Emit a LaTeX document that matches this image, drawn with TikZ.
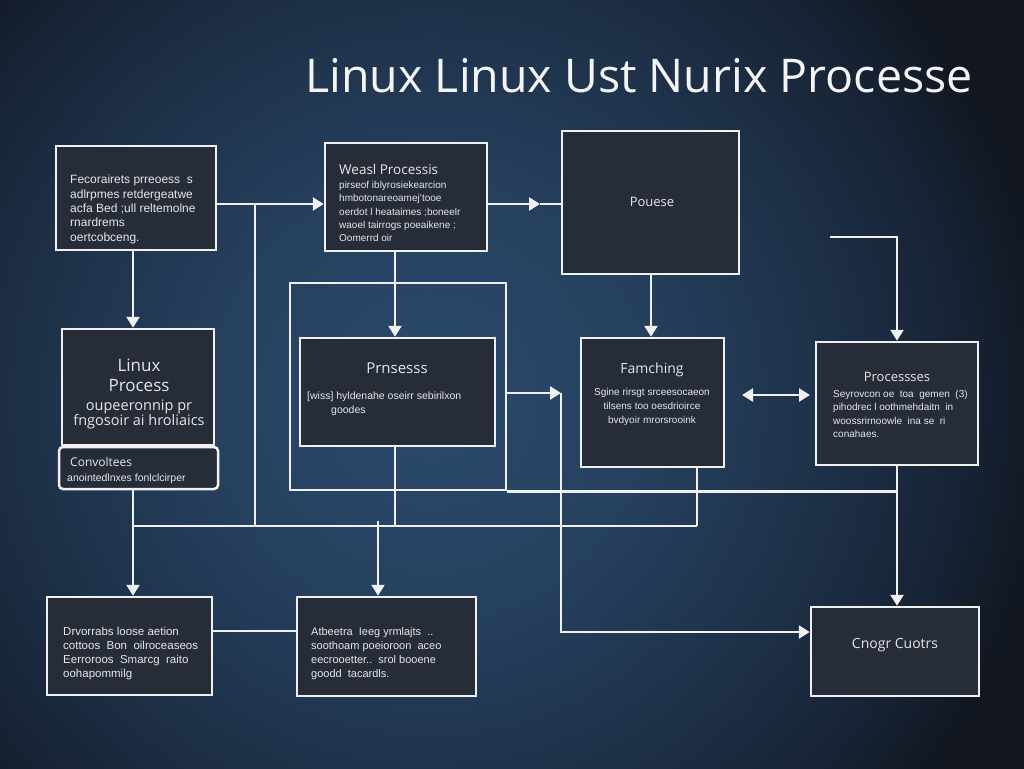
\documentclass[tikz,border=0pt]{standalone}
\usepackage{fontspec}
\setmainfont{Liberation Sans}
\newfontfamily\titlefont{Open Sans}
\usetikzlibrary{arrows.meta}
\definecolor{bgA}{HTML}{2B4A6D}
\definecolor{bgB}{HTML}{26415F}
\definecolor{bgC}{HTML}{1E3149}
\definecolor{bgD}{HTML}{172335}
\definecolor{bgE}{HTML}{11161F}
\definecolor{boxfill}{HTML}{262D39}
\definecolor{linec}{HTML}{F0F0F0}
\definecolor{txtc}{HTML}{E6E6E6}
\definecolor{titlec}{HTML}{F4F4F4}
\pgfdeclareradialshading{bgshade}{\pgfpoint{0bp}{0bp}}{color(0bp)=(bgA); color(7.5bp)=(bgB); color(14bp)=(bgC); color(19bp)=(bgD); color(22.5bp)=(bgE); color(50bp)=(bgE)}
\begin{document}
\begin{tikzpicture}[x=1pt,y=-1pt,
  box/.style={draw=linec, line width=2.5pt, fill=boxfill, inner sep=0pt},
  conn/.style={draw=linec, line width=2.5pt},
  arr/.style={conn, -{Triangle[width=13pt,length=11pt]}},
  dbl/.style={conn, {Triangle[width=13pt,length=11pt]}-{Triangle[width=13pt,length=11pt]}},
  ltxt/.style={text=txtc, inner sep=0pt, align=left, anchor=north west},
  ctxt/.style={text=txtc, inner sep=0pt, align=center},
]
\useasboundingbox (0,0) rectangle (1024,768);
\begin{scope}
\clip (0,0) rectangle (1024,768);
\fill[bgE] (0,0) rectangle (1024,768);
\shade[shading=bgshade] (-270,-300) rectangle (1130,1100);
\end{scope}

% boxes
\node[box, minimum width=160pt, minimum height=104pt] (A) at (136,198) {};
\node[box, minimum width=162pt, minimum height=108pt] (B) at (406,197) {};
\node[box, minimum width=177pt, minimum height=143pt] (C) at (650.5,202.5) {};
\node[box, minimum width=152pt, minimum height=116pt] (D) at (138,387) {};
\node[box, minimum width=159pt, minimum height=42pt, rounded corners=4pt] (Dsub) at (138.5,468) {};
\node[draw=linec, line width=2.5pt, inner sep=0pt, minimum width=216pt, minimum height=207pt] (Fr) at (398,386.5) {};
\node[box, minimum width=195pt, minimum height=108pt] (E) at (397.5,392) {};
\node[box, minimum width=143pt, minimum height=129pt] (F) at (652.5,402.5) {};
\node[box, minimum width=162pt, minimum height=123pt] (G) at (897,403.5) {};
\node[box, minimum width=165pt, minimum height=98pt] (H) at (129.5,646) {};
\node[box, minimum width=179pt, minimum height=99pt] (I) at (386.5,646.5) {};
\node[box, minimum width=168pt, minimum height=89pt] (J) at (895,651.5) {};

% helper coordinates
\coordinate (yAB) at (0,204);
\coordinate (cx133) at (133,0);
\coordinate (cx395) at (395,0);
\coordinate (cx651) at (651,0);
\coordinate (cx697) at (697,0);
\coordinate (v1t) at (255,204);
\coordinate (v1b) at (255,526);
\coordinate (tC) at (540,204);
\coordinate (fr1) at (830,237);
\coordinate (d1) at (742,395);
\coordinate (d2) at (810,395);
\coordinate (y393) at (0,393);
\coordinate (tJ) at (561,393);
\coordinate (cJ) at (561,632);
\coordinate (h526L) at (133,526);
\coordinate (h526R) at (697,526);
\coordinate (a378) at (378,521);
\coordinate (y631) at (0,631);

% connectors
\draw[arr] (A.east |- yAB) -- (B.west |- yAB);
\draw[conn] (v1t) -- (v1b);
\draw[arr] (cx133 |- A.south) -- (cx133 |- D.north);
\draw[arr] (B.east |- yAB) -- (tC);
\draw[conn] (tC) -- (C.west |- yAB);
\draw[arr] (cx395 |- B.south) -- (cx395 |- E.north);
\draw[arr] (cx651 |- C.south) -- (cx651 |- F.north);
\draw[arr] (fr1) -- (G.north |- fr1) -- (G.north);
\draw[dbl] (d1) -- (d2);
\draw[arr] (Fr.east |- y393) -- (tJ);
\draw[arr] (tJ) -- (cJ) -- (J.west |- cJ);
\draw[conn] (Fr.south east) -- (G.south |- Fr.south east);
\draw[arr] (G.south) -- (G.south |- J.north);
\draw[conn] (h526L) -- (h526R);
\draw[conn] (cx697 |- F.south) -- (h526R);
\draw[conn] (cx395 |- E.south) -- (cx395 |- h526L);
\draw[arr] (a378) -- (a378 |- I.north);
\draw[arr] (cx133 |- Dsub.south) -- (cx133 |- H.north);
\draw[conn] (H.east |- y631) -- (I.west |- y631);

% title
\node[text=titlec, inner sep=0pt, font=\titlefont\fontsize{46.5}{52}\selectfont] (title) at (639,76) {Linux Linux Ust Nurix Processe};

% texts
\node[ltxt, font=\fontsize{12}{14.3}\selectfont] (Atx) at (70,175) {Fecorairets prreoess\ \ s\\adlrpmes retdergeatwe\\acfa Bed ;ull reltemolne\\rnardrems\\oertcobceng.};
\node[ltxt, font=\titlefont\fontsize{13.5}{15}\selectfont] (Bt) at (339,164) {Weasl Processis};
\node[ltxt, font=\fontsize{10}{13.3}\selectfont] (Btx) at (339,181) {pirseof iblyrosiekearcion\\hmbotonareoamej'tooe\\oerdot l heataimes ;boneelr\\waoel tairrogs poeaikene ;\\Oomerrd oir};
\node[ctxt, font=\titlefont\fontsize{13}{15}\selectfont] (Ct) at (652,202) {Pouese};
\node[ctxt, font=\titlefont\fontsize{17}{20}\selectfont] (Dt) at (139,375) {Linux\\Process};
\node[ctxt, font=\titlefont\fontsize{14.5}{15}\selectfont] (Dtx) at (139,414.5) {oupeeronnip pr\\fngosoir ai hroliaics};
\node[ltxt, font=\titlefont\fontsize{12}{15}\selectfont] (Dst) at (70,457) {Convoltees};
\node[ltxt, font=\fontsize{10.5}{13}\selectfont] (Dstx) at (67,474) {anointedlnxes fonlclcirper};
\node[ctxt, font=\titlefont\fontsize{15}{17}\selectfont] (Et) at (397,368) {Prnsesss};
\node[ltxt, font=\fontsize{10.5}{13.5}\selectfont] (Etx) at (307,392) {[wiss] hyldenahe oseirr sebirilxon\\\hspace*{24pt}goodes};
\node[ctxt, font=\titlefont\fontsize{14}{16}\selectfont] (Ft) at (652,370) {Famching};
\node[ctxt, font=\fontsize{10}{14}\selectfont] (Ftx) at (652,407) {Sgine rirsgt srceesocaeon\\tilsens too oesdrioirce\\bvdyoir mrorsrooink};
\node[ctxt, font=\titlefont\fontsize{13}{15}\selectfont] (Gt) at (897,377) {Processses};
\node[ltxt, font=\fontsize{10}{13.3}\selectfont] (Gtx) at (833,390) {Seyrovcon oe\ \ toa\ \ gemen\ \ (3)\\pihodrec l oothmehdaitn\ \ in\\woossrirnoowle\ \ ina se\ \ ri\\conahaes.};
\node[ltxt, font=\fontsize{11.5}{14}\selectfont] (Htx) at (63,627) {Drvorrabs loose aetion\\cottoos\ \ Bon\ \ oilroceaseos\\Eerroroos\ \ Smarcg\ \ raito\\oohapommilg};
\node[ltxt, font=\fontsize{11}{14}\selectfont] (Itx) at (311,627) {Atbeetra\ \ Ieeg yrmlajts\ \ ..\\soothoam poeioroon\ \ aceo\\eecrooetter..\ \ srol booene\\goodd\ \ tacardls.};
\node[ctxt, font=\titlefont\fontsize{14}{16}\selectfont] (Jt) at (895,645) {Cnogr Cuotrs};
\end{tikzpicture}
\end{document}
